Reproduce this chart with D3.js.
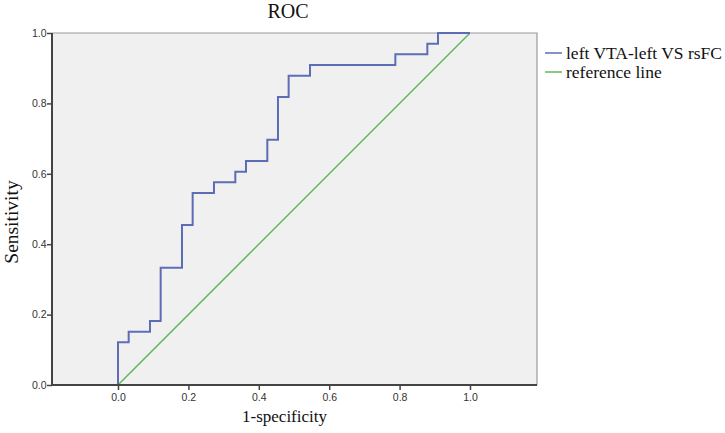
<!DOCTYPE html>
<html><head><meta charset="utf-8">
<script src="https://cdn.jsdelivr.net/npm/d3@7"></script>
<style>body{margin:0;background:#fff}svg{display:block}</style>
</head><body><svg id="c" width="725" height="433"></svg>
<script>
const fpr = [0,0,0.0303,0.0303,0.0909,0.0909,0.1212,0.1212,0.1818,0.1818,0.2121,0.2121,0.2727,0.2727,0.3333,0.3333,0.3636,0.3636,0.4242,0.4242,0.4545,0.4545,0.4848,0.4848,0.5455,0.5455,0.7879,0.7879,0.8788,0.8788,0.9091,0.9091,1];
const tpr = [0,0.1212,0.1212,0.1515,0.1515,0.1818,0.1818,0.3333,0.3333,0.4545,0.4545,0.5455,0.5455,0.5758,0.5758,0.6061,0.6061,0.6364,0.6364,0.6970,0.6970,0.8182,0.8182,0.8788,0.8788,0.9091,0.9091,0.9394,0.9394,0.9697,0.9697,1,1];
const refX = [0,1];
const refY = [0,1];
const ticks = [0,0.2,0.4,0.6,0.8,1.0];
const seriesNames = ["left VTA-left VS rsFC","reference line"];
const colors = ["#5d6db5","#5cb85c"];

const svg = d3.select("#c");
const L=52,R=537,T=33,B=385;
const x = d3.scaleLinear().domain([0,1]).range([118,470]);
const y = d3.scaleLinear().domain([0,1]).range([B,T]);

svg.append("rect").attr("x",L).attr("y",T).attr("width",R-L).attr("height",B-T).attr("fill","#f0f0f0");
svg.append("path").attr("d",`M${L},${T}H${R}V${B}`).attr("fill","none").attr("stroke","#9a9a9a").attr("stroke-width",1.2);

const line = d3.line().x(d=>x(d[0])).y(d=>y(d[1]));
svg.append("path").datum(refX.map((v,i)=>[v,refY[i]])).attr("d",line).attr("fill","none").attr("stroke",colors[1]).attr("stroke-width",1.5);
svg.append("path").datum(fpr.map((v,i)=>[v,tpr[i]])).attr("d",line).attr("fill","none").attr("stroke",colors[0]).attr("stroke-width",2);

const xa = svg.append("g").attr("transform",`translate(0,${B})`).call(d3.axisBottom(x).tickValues(ticks).tickFormat(d3.format(".1f")).tickSize(5).tickSizeOuter(0));
const ya = svg.append("g").attr("transform",`translate(${L},0)`).call(d3.axisLeft(y).tickValues(ticks).tickFormat(d3.format(".1f")).tickSize(5).tickSizeOuter(0));
[xa,ya].forEach(g=>{
  g.select(".domain").remove();
  g.selectAll(".tick line").attr("stroke","#444").attr("stroke-width",1.5);
  g.selectAll("text").attr("font-family","Liberation Sans, Arial, sans-serif").attr("font-size",10.5).attr("fill","#333");
});
ya.selectAll("text").attr("x",-5.5);
xa.selectAll("text").attr("y",8.5);
svg.append("line").attr("x1",L).attr("x2",R).attr("y1",B).attr("y2",B).attr("stroke","#444").attr("stroke-width",2);
svg.append("line").attr("x1",L).attr("x2",L).attr("y1",T).attr("y2",B).attr("stroke","#444").attr("stroke-width",2);

const serif = "Liberation Serif, Times New Roman, serif";
svg.append("text").attr("x",288).attr("y",18).attr("text-anchor","middle").attr("font-family",serif).attr("font-size",20).attr("fill","#111").text("ROC");
svg.append("text").attr("x",284.5).attr("y",422).attr("text-anchor","middle").attr("font-family",serif).attr("font-size",17).attr("fill","#111").text("1-specificity");
svg.append("text").attr("transform","translate(18,222) rotate(-90)").attr("text-anchor","middle").attr("font-family",serif).attr("font-size",19.5).attr("fill","#111").text("Sensitivity");

const lg = svg.append("g");
seriesNames.forEach((n,i)=>{
  const yy = 53 + i*19;
  lg.append("line").attr("x1",545).attr("x2",562).attr("y1",yy).attr("y2",yy).attr("stroke",colors[i]).attr("stroke-width",1.5);
  lg.append("text").attr("x",566).attr("y",yy+5.5).attr("font-family",serif).attr("font-size",17.5).attr("fill","#111").text(n);
});
</script></body></html>
